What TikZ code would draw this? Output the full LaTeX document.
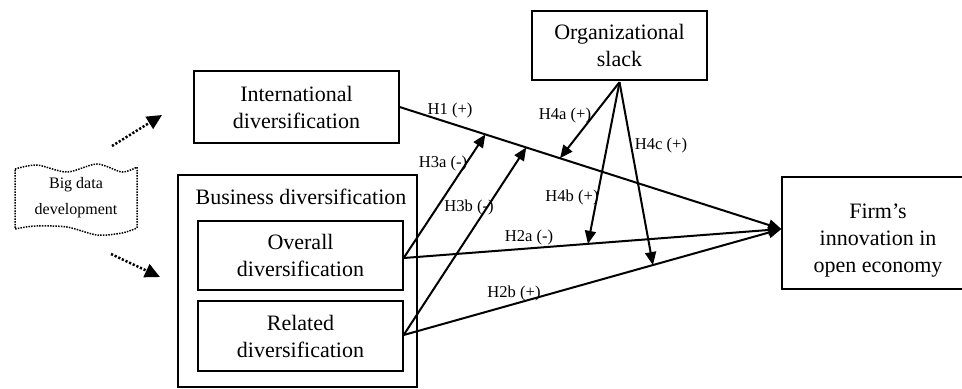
\documentclass[tikz,border=0pt]{standalone}
\usepackage{fontspec}
\setmainfont{Liberation Serif}
\usetikzlibrary{arrows.meta,calc}
\begin{document}
\begin{tikzpicture}[x=0.5pt,y=-0.5pt,
  boxtxt/.style={font=\fontsize{11}{13.5}\selectfont,align=center,inner sep=0pt},
  box/.style={draw,line width=0.65pt,boxtxt},
  hlab/.style={font=\fontsize{8.3}{10}\selectfont,inner sep=0pt},
  conn/.style={line width=1pt,-{Triangle[length=6.5pt,width=5.5pt]}},
  plainconn/.style={line width=1pt},
  dotarrow/.style={line width=1.25pt,dash pattern=on 1.1pt off 0.9pt,-{Triangle[length=7.5pt,width=7pt]}},
  bdline/.style={line width=0.75pt,dash pattern=on 0.75pt off 0.6pt}]
\useasboundingbox (0,0) rectangle (962,388);
\clip (0,0) rectangle (962,388);

% boxes
\node[box,minimum width=102.5pt,minimum height=36pt] (intl) at (296.5,107) {International\\diversification};
\node[box,minimum width=87.5pt,minimum height=34.5pt] (slack) at (619.5,45.5) {Organizational\\slack};
\node[draw,line width=0.65pt,minimum width=119.5pt,minimum height=106pt,inner sep=0pt] (bus) at (297.5,281) {};
\node[boxtxt] (bustitle) at (301,197) {Business diversification};
\node[box,minimum width=102.5pt,minimum height=34.5pt] (overall) at (300.5,255.5) {Overall\\diversification};
\node[box,minimum width=102.5pt,minimum height=35pt] (related) at (300.5,336) {Related\\diversification};
\node[draw,line width=0.65pt,minimum width=96.5pt,minimum height=56pt,inner sep=0pt] (firm) at (878.5,233) {};
\node[boxtxt] (firmtxt) at (878,241) {Firm’s\\innovation in\\open economy};

% big data shape
\draw[bdline] plot[smooth] coordinates {(15,169) (37,165) (67,172) (97,164) (122,172) (137,167)}
  -- plot[smooth] coordinates {(137,228) (122,233) (97,235) (67,227) (35,226) (15,229)} -- cycle;
\node[font=\fontsize{8}{13}\selectfont,align=center,inner sep=0pt] (bigdata) at (76,198) {Big data\\development};

% dotted arrows
\coordinate (d1s) at (112,146);
\coordinate (d1e) at (162,115);
\coordinate (d2s) at (111,254);
\coordinate (d2e) at (160,277);
\draw[dotarrow] (d1s) -- (d1e);
\draw[dotarrow] (d2s) -- (d2e);

% main connectors
\coordinate (ftip) at ($(firm.west)+(0,-4)$);
\coordinate (ovs) at ($(overall.east)+(0,2.5)$);
\coordinate (res) at ($(related.east)+(0,-1)$);
\coordinate (slb) at ($(slack.south)+(0,1.5)$);
\draw[conn] (intl.east) -- coordinate[pos=0.2245] (h3atip) coordinate[pos=0.3316] (h3btip) coordinate[pos=0.42] (h4atip) (ftip);
\draw[conn] (ovs) -- coordinate[pos=0.488] (h4btip) (ftip);
\draw[conn] (res) -- coordinate[pos=0.66] (h4ctip) (ftip);
\draw[conn] (ovs) -- (h3atip);
\draw[conn] (res) -- (h3btip);
\draw[conn] (slb) -- (h4atip);
\draw[conn] (slb) -- (h4btip);
\draw[conn] (slb) -- (h4ctip);

% labels
\node[hlab] (l1) at (450,110) {H1 (+)};
\node[hlab] (l4a) at (565,115) {H4a (+)};
\node[hlab] (l3a) at (443,163) {H3a (-)};
\node[hlab] (l3b) at (469,207) {H3b (-)};
\node[hlab] (l4b) at (572,197) {H4b (+)};
\node[hlab] (l2a) at (529,237) {H2a (-)};
\node[hlab] (l2b) at (514,293) {H2b (+)};
\node[hlab] (l4c) at (661,145) {H4c (+)};
\end{tikzpicture}
\end{document}
